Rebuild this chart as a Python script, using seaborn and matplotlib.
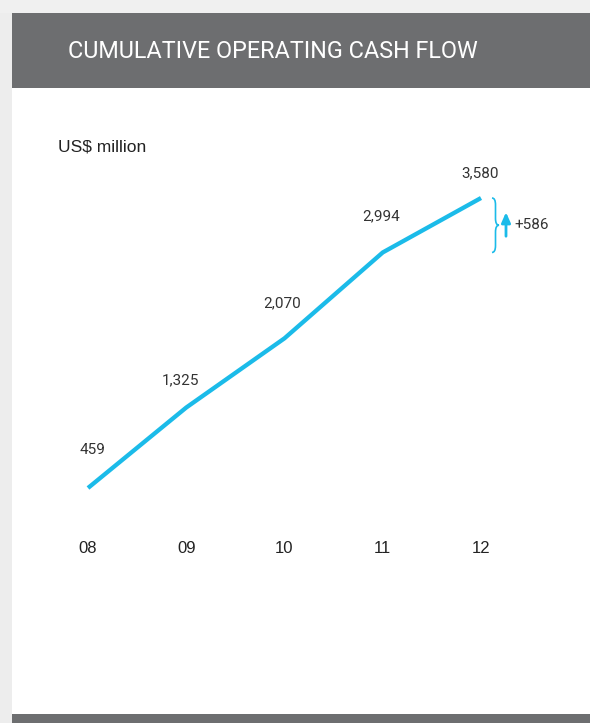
import matplotlib
matplotlib.use('Agg')
import matplotlib.pyplot as plt
import seaborn as sns
import pandas as pd
from matplotlib.patches import Rectangle, PathPatch
from matplotlib.path import Path

# ---- data ----
years = ['08', '09', '10', '11', '12']
values = [459, 1325, 2070, 2994, 3580]
title = 'CUMULATIVE OPERATING CASH FLOW'
unit_label = 'US$ million'
increase_label = '+586'

# ---- style ----
sns.set_theme(style='white')
plt.rcParams['font.family'] = ['Liberation Sans', 'DejaVu Sans']
NARROW = ['Liberation Sans Narrow', 'Roboto', 'DejaVu Sans']
CYAN = '#1bbbe9'
DARK = '#6d6e70'
TEXT = '#333333'

W, H = 590, 723
fig = plt.figure(figsize=(W / 100, H / 100), dpi=100)
fig.patch.set_facecolor('white')

def px(x, y, w, h):
    return [x / W, 1 - (y + h) / H, w / W, h / H]

# background frame
bg = fig.add_axes([0, 0, 1, 1], zorder=-5)
bg.set_xlim(0, W); bg.set_ylim(H, 0); bg.axis('off')
bg.add_patch(Rectangle((0, 0), 12, H, color='#ededed', lw=0))
bg.add_patch(Rectangle((0, 0), W, 13, color='#f0f0f0', lw=0))
bg.add_patch(Rectangle((12, 13), W - 12, 75, color=DARK, lw=0))
bg.add_patch(Rectangle((12, 714), W - 12, 9, color=DARK, lw=0))
bg.text(273, 52, title, color='white', fontsize=16.8, ha='center', va='center',
        family=NARROW)
bg.text(58, 147, unit_label, color='#222222', fontsize=12.5, ha='left', va='center')

# chart axes (pixel box 40..530 x 130..535)
L, R, T, B = 40, 530, 130, 535
ax = fig.add_axes(px(L, T, R - L, B - T))
x0, x4 = 88, 481
ppu = (x4 - x0) / 4
ax.set_xlim(-(x0 - L) / ppu, 4 + (R - x4) / ppu)
y_lo_px, y_hi_px = 488, 198
k = (values[-1] - values[0]) / (y_lo_px - y_hi_px)
ax.set_ylim(values[0] - (B - y_lo_px) * k, values[-1] + (y_hi_px - T) * k)

df = pd.DataFrame({'pos': range(len(years)), 'value': values})
sns.lineplot(data=df, x='pos', y='value', color=CYAN, lw=3.1, ax=ax,
             solid_capstyle='butt', solid_joinstyle='miter')

ax.set_xticks(range(len(years)))
ax.set_xticklabels(years, fontsize=12, color='#222222')
ax.tick_params(axis='x', length=0, pad=4)
ax.set_yticks([])
ax.set_xlabel(''); ax.set_ylabel('')
for s in ax.spines.values():
    s.set_visible(False)
ax.patch.set_alpha(0)

# value labels (offsets in pixels -> points)
label_dx = [4, -6, -2, -2, -1]
label_dy = [38, 27, 35, 36, 25]
for i, v in enumerate(values):
    ax.annotate(f'{v:,}', (i, v), xytext=(label_dx[i] * 0.72, label_dy[i] * 0.72),
                textcoords='offset points', ha='center', va='center',
                fontsize=11, color=TEXT, family=NARROW)

# brace spanning last increase
xb = 4 + 11 / ppu
w = 3.5 / ppu
y1, y2 = values[-2], values[-1]
ym = (y1 + y2) / 2
verts = [(xb, y2), (xb + w, y2), (xb + w, y2 - (y2 - ym) * 0.25),
         (xb + w, ym + (y2 - ym) * 0.25),
         (xb + w, ym), (xb + 2 * w, ym),
         (xb + w, ym), (xb + w, ym - (ym - y1) * 0.25),
         (xb + w, y1 + (ym - y1) * 0.25),
         (xb + w, y1), (xb, y1)]
codes = [Path.MOVETO, Path.CURVE3, Path.CURVE3,
         Path.LINETO,
         Path.CURVE3, Path.CURVE3,
         Path.CURVE3, Path.CURVE3,
         Path.LINETO,
         Path.CURVE3, Path.CURVE3]
ax.add_patch(PathPatch(Path(verts, codes), fill=False, edgecolor=CYAN, lw=1.2,
                       clip_on=False))

# arrow + increase label
xa = 4 + 25 / ppu
ax.annotate('', xy=(xa, ym + 13 * k), xytext=(xa, ym - 11 * k),
            arrowprops=dict(arrowstyle='-|>,head_length=0.5,head_width=0.22',
                            color=CYAN, lw=2.0, shrinkA=0, shrinkB=0),
            annotation_clip=False)
ax.text(4 + 33 / ppu, ym, increase_label, ha='left', va='center',
        fontsize=11, color=TEXT, family=NARROW)

fig.savefig('out.png', dpi=100, facecolor='white')
